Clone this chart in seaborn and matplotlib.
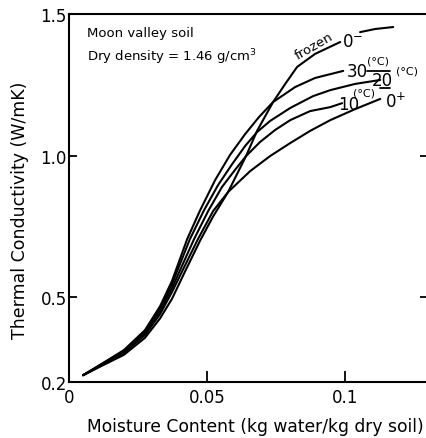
import numpy as np
import pandas as pd
import matplotlib
matplotlib.use("Agg")
import matplotlib.pyplot as plt
import seaborn as sns

# ---- data (moisture content vs thermal conductivity) ----
x_30 = [0.0051, 0.0112, 0.0199, 0.0275, 0.0330, 0.0373, 0.0428, 0.0475, 0.0529, 0.0583,
        0.0638, 0.0688, 0.0739, 0.0819, 0.0891, 0.0993]
k_30 = [0.224, 0.260, 0.313, 0.383, 0.468, 0.557, 0.705, 0.807, 0.913, 1.002,
        1.076, 1.136, 1.189, 1.242, 1.274, 1.299]

x_20 = [0.0051, 0.0112, 0.0199, 0.0275, 0.0330, 0.0373, 0.0438, 0.0489, 0.0540, 0.0591,
        0.0638, 0.0681, 0.0728, 0.0801, 0.0884, 0.0946, 0.1036, 0.1127]
k_20 = [0.224, 0.260, 0.309, 0.380, 0.461, 0.546, 0.705, 0.807, 0.896, 0.970,
        1.034, 1.083, 1.122, 1.168, 1.210, 1.231, 1.253, 1.267]

x_10 = [0.0051, 0.0112, 0.0199, 0.0275, 0.0330, 0.0373, 0.0453, 0.0504, 0.0554, 0.0601,
        0.0641, 0.0692, 0.0746, 0.0801, 0.0873, 0.0946, 0.0989]
k_10 = [0.224, 0.256, 0.306, 0.373, 0.451, 0.532, 0.705, 0.804, 0.889, 0.949,
        0.998, 1.048, 1.090, 1.125, 1.157, 1.171, 1.185]

x_0p = [0.0051, 0.0112, 0.0199, 0.0275, 0.0330, 0.0373, 0.0467, 0.0522, 0.0576, 0.0656,
        0.0728, 0.0801, 0.0873, 0.0946, 0.1036, 0.1127]
k_0p = [0.224, 0.256, 0.302, 0.366, 0.440, 0.518, 0.705, 0.804, 0.871, 0.945,
        0.998, 1.044, 1.087, 1.125, 1.164, 1.200]

x_frozen = [0.0051, 0.0112, 0.0199, 0.0275, 0.0330, 0.0373, 0.0420, 0.0475, 0.0522, 0.0576,
            0.0641, 0.0681, 0.0739, 0.0783, 0.0826, 0.0891, 0.0982]
k_frozen = [0.224, 0.254, 0.296, 0.356, 0.425, 0.494, 0.590, 0.700, 0.785, 0.871,
            0.998, 1.087, 1.189, 1.253, 1.313, 1.359, 1.401]
x_frozen_tail = [0.1054, 0.1109, 0.1174]
k_frozen_tail = [1.436, 1.447, 1.454]

x_ticks = [0, 0.05, 0.1]
x_ticklabels = ["0", "0.05", "0.1"]
y_ticks = [0.2, 0.5, 1.0, 1.5]
y_ticklabels = ["0.2", "0.5", "1.0", "1.5"]

# ---- figure ----
sns.set_style("ticks")
plt.rcParams["font.family"] = ["DejaVu Sans"]
plt.rcParams["text.color"] = "black"
plt.rcParams["axes.labelcolor"] = "black"

fig = plt.figure(figsize=(4.27, 4.39), dpi=100)
ax = fig.add_axes([69 / 427, 56 / 439, 359 / 427, 368 / 439])

curves = [(x_30, k_30), (x_20, k_20), (x_10, k_10), (x_0p, k_0p),
          (x_frozen, k_frozen), (x_frozen_tail, k_frozen_tail)]
for xs, ks in curves:
    sns.lineplot(x=xs, y=ks, color="black", linewidth=1.5, estimator=None,
                 sort=False, ax=ax)

ax.set_xlim(0, 0.13)
ax.set_ylim(0.2, 1.5)
ax.set_xticks(x_ticks)
ax.set_xticklabels(x_ticklabels)
ax.set_yticks(y_ticks)
ax.set_yticklabels(y_ticklabels)
ax.tick_params(axis="both", direction="in", labelsize=12, width=1.3,
               colors="black", labelcolor="black")
ax.tick_params(axis="x", length=8, pad=4.5)
ax.tick_params(axis="y", length=6, pad=1.5, right=True)
for s in ax.spines.values():
    s.set_linewidth(1.5)
    s.set_color("black")

ax.set_xlabel("Moisture Content (kg water/kg dry soil)", fontsize=12.3)
ax.set_ylabel("Thermal Conductivity (W/mK)", fontsize=12.5)
ax.xaxis.set_label_coords(0.519, -0.095)
ax.yaxis.set_label_coords(-0.112, 0.47)

# annotations
ax.text(0.0065, 1.433, "Moon valley soil", fontsize=9.5, ha="left", va="center")
ax.text(0.0065, 1.350, "Dry density = 1.46 g/cm$^3$", fontsize=9.5, ha="left", va="center")

ax.text(0.0887, 1.388, "frozen", rotation=30, fontsize=9.5, ha="center", va="center")
ax.text(0.0989, 1.405, "0$^{-}$", fontsize=12, ha="left", va="center")

ax.text(0.1043, 1.300, "30", fontsize=12, ha="center", va="center")
ax.text(0.1120, 1.334, "(°C)", fontsize=8, ha="center", va="center")
ax.plot([0.1080, 0.1163], [1.300, 1.300], color="black", lw=1.3)
ax.text(0.1136, 1.268, "20", fontsize=12, ha="center", va="center")
ax.text(0.1225, 1.302, "(°C)", fontsize=8, ha="center", va="center")
ax.text(0.1012, 1.183, "10", fontsize=12, ha="center", va="center")
ax.text(0.1068, 1.222, "(°C)", fontsize=8, ha="center", va="center")
ax.plot([0.1127, 0.1163], [1.239, 1.239], color="black", lw=1.3)
ax.text(0.1145, 1.193, "0$^{+}$", fontsize=12, ha="left", va="center")

fig.savefig("out.png", dpi=100)
